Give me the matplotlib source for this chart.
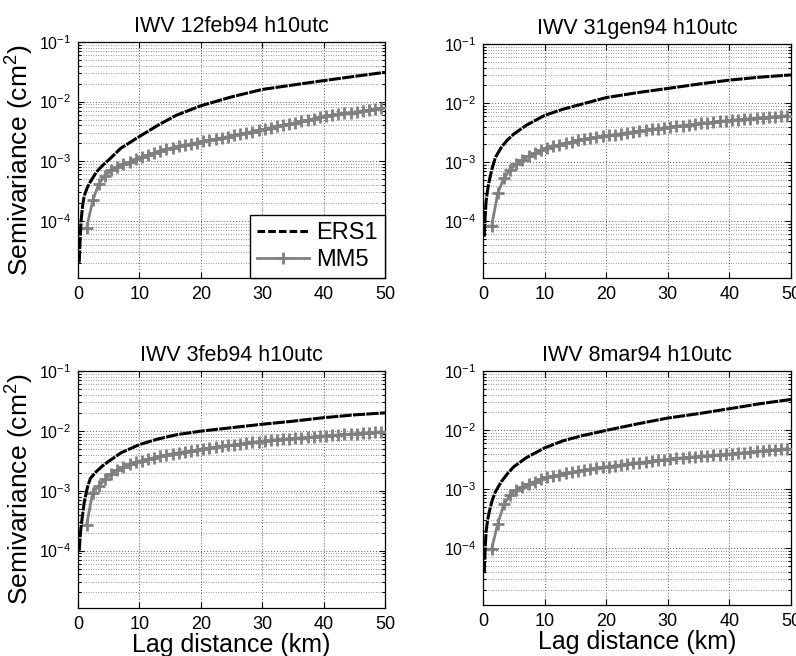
import matplotlib
matplotlib.use("Agg")
import matplotlib.pyplot as plt
from matplotlib.ticker import LogLocator, FixedLocator, NullFormatter

plt.rcParams['font.family'] = ['Liberation Sans', 'DejaVu Sans']
plt.rcParams['mathtext.fontset'] = 'custom'
plt.rcParams['mathtext.rm'] = 'Liberation Sans'
plt.rcParams['mathtext.it'] = 'Liberation Sans:italic'
plt.rcParams['mathtext.bf'] = 'Liberation Sans:bold'

titles = ["IWV 12feb94 h10utc", "IWV 31gen94 h10utc", "IWV 3feb94 h10utc", "IWV 8mar94 h10utc"]
series_names = ["ERS1", "MM5"]
x_ticks = [0, 10, 20, 30, 40, 50]
y_ticks = [1e-4, 1e-3, 1e-2, 1e-1]

ers_lag = [0.2, 0.35, 0.5, 0.75, 1, 1.5, 2, 3, 4, 5, 7, 10, 13, 16, 20, 25, 30, 35, 40, 45, 50]
ers_12feb = [2e-5, 5e-5, 1.0e-4, 1.8e-4, 2.6e-4, 3.6e-4, 4.5e-4, 6.6e-4, 8.5e-4, 1.05e-3, 1.66e-3,
             2.6e-3, 4.0e-3, 5.9e-3, 8.5e-3, 1.2e-2, 1.6e-2, 1.9e-2, 2.25e-2, 2.65e-2, 3.1e-2]
ers_31gen = [5.5e-5, 1.2e-4, 2.2e-4, 3.4e-4, 4.8e-4, 8e-4, 1.2e-3, 1.8e-3, 2.4e-3, 3.0e-3, 4.2e-3,
             6.2e-3, 7.9e-3, 9.6e-3, 1.24e-2, 1.5e-2, 1.77e-2, 2.1e-2, 2.45e-2, 2.75e-2, 3.0e-2]
ers_3feb = [1e-4, 1.7e-4, 2.5e-4, 4e-4, 6.3e-4, 1.1e-3, 1.6e-3, 2.1e-3, 2.6e-3, 3.1e-3, 4.3e-3,
            5.9e-3, 7.3e-3, 8.6e-3, 9.9e-3, 1.13e-2, 1.29e-2, 1.45e-2, 1.66e-2, 1.85e-2, 2.0e-2]
ers_8mar = [3.8e-5, 1.0e-4, 1.9e-4, 3e-4, 4.1e-4, 6.5e-4, 9e-4, 1.35e-3, 1.85e-3, 2.4e-3, 3.4e-3,
            5.0e-3, 6.6e-3, 8.0e-3, 9.9e-3, 1.27e-2, 1.6e-2, 1.9e-2, 2.3e-2, 2.8e-2, 3.3e-2]

mm5_lag = [1.4, 2.4, 3.4, 4.4, 5.4, 6.4, 7.4, 8.4, 9.4, 10.4, 11.4, 12.4, 13.4, 14.4, 15.4, 16.4,
           17.4, 18.4, 19.4, 20.4, 21.4, 22.4, 23.4, 24.4, 25.4, 26.4, 27.4, 28.4, 29.4, 30.4,
           31.4, 32.4, 33.4, 34.4, 35.4, 36.4, 37.4, 38.4, 39.4, 40.4, 41.4, 42.4, 43.4, 44.4,
           45.4, 46.4, 47.4, 48.4, 49.4]
mm5_12feb = [7.6e-5, 2.2e-4, 4.2e-4, 5.7e-4, 7.0e-4, 8.0e-4, 8.9e-4, 9.7e-4, 1.07e-3, 1.16e-3,
             1.26e-3, 1.36e-3, 1.46e-3, 1.58e-3, 1.69e-3, 1.78e-3, 1.87e-3, 1.96e-3, 2.05e-3,
             2.15e-3, 2.25e-3, 2.36e-3, 2.47e-3, 2.59e-3, 2.72e-3, 2.86e-3, 3.0e-3, 3.15e-3,
             3.3e-3, 3.47e-3, 3.65e-3, 3.84e-3, 4.03e-3, 4.22e-3, 4.42e-3, 4.65e-3, 4.9e-3,
             5.15e-3, 5.45e-3, 5.75e-3, 5.95e-3, 6.15e-3, 6.35e-3, 6.55e-3, 6.8e-3, 7.0e-3,
             7.25e-3, 7.5e-3, 7.8e-3]
mm5_31gen = [8.3e-5, 3.0e-4, 5.4e-4, 7.5e-4, 9.3e-4, 1.08e-3, 1.26e-3, 1.42e-3, 1.58e-3, 1.72e-3,
             1.85e-3, 1.97e-3, 2.09e-3, 2.2e-3, 2.34e-3, 2.44e-3, 2.54e-3, 2.64e-3, 2.74e-3,
             2.84e-3, 2.94e-3, 3.05e-3, 3.15e-3, 3.26e-3, 3.37e-3, 3.48e-3, 3.59e-3, 3.7e-3,
             3.82e-3, 3.94e-3, 4.06e-3, 4.18e-3, 4.3e-3, 4.42e-3, 4.54e-3, 4.66e-3, 4.78e-3,
             4.9e-3, 5.02e-3, 5.14e-3, 5.25e-3, 5.36e-3, 5.47e-3, 5.58e-3, 5.69e-3, 5.8e-3,
             5.91e-3, 6.02e-3, 6.13e-3]
mm5_3feb = [2.7e-4, 9.3e-4, 1.2e-3, 1.55e-3, 1.9e-3, 2.2e-3, 2.5e-3, 2.75e-3, 2.97e-3, 3.17e-3,
            3.37e-3, 3.57e-3, 3.77e-3, 3.97e-3, 4.15e-3, 4.31e-3, 4.47e-3, 4.63e-3, 4.8e-3,
            4.96e-3, 5.15e-3, 5.33e-3, 5.52e-3, 5.7e-3, 5.88e-3, 6.06e-3, 6.25e-3, 6.43e-3,
            6.62e-3, 6.84e-3, 6.98e-3, 7.12e-3, 7.26e-3, 7.4e-3, 7.54e-3, 7.68e-3, 7.82e-3,
            7.96e-3, 8.1e-3, 8.25e-3, 8.4e-3, 8.55e-3, 8.7e-3, 8.85e-3, 9.0e-3, 9.15e-3,
            9.3e-3, 9.45e-3, 9.7e-3]
mm5_8mar = [9.8e-5, 2.6e-4, 5.6e-4, 7.9e-4, 9.6e-4, 1.1e-3, 1.23e-3, 1.35e-3, 1.47e-3, 1.58e-3,
            1.67e-3, 1.76e-3, 1.85e-3, 1.94e-3, 2.02e-3, 2.1e-3, 2.18e-3, 2.26e-3, 2.34e-3,
            2.42e-3, 2.5e-3, 2.58e-3, 2.66e-3, 2.74e-3, 2.82e-3, 2.9e-3, 2.98e-3, 3.07e-3,
            3.16e-3, 3.26e-3, 3.33e-3, 3.4e-3, 3.47e-3, 3.54e-3, 3.61e-3, 3.68e-3, 3.75e-3,
            3.83e-3, 3.91e-3, 3.99e-3, 4.08e-3, 4.17e-3, 4.26e-3, 4.35e-3, 4.44e-3, 4.54e-3,
            4.64e-3, 4.74e-3, 4.85e-3]

ers_all = [ers_12feb, ers_31gen, ers_3feb, ers_8mar]
mm5_all = [mm5_12feb, mm5_31gen, mm5_3feb, mm5_8mar]

W, H = 796, 656
fig = plt.figure(figsize=(W / 100, H / 100), dpi=100)
# axes boxes in pixels: left, top, right, bottom
boxes = [(78, 42, 385, 278), (483, 44, 791, 278), (78, 371, 385, 608), (483, 371, 791, 605)]

for i, (l, t, r, b) in enumerate(boxes):
    ax = fig.add_axes([l / W, 1 - b / H, (r - l) / W, (b - t) / H])
    ax.set_yscale('log')
    ax.set_xlim(0, 50)
    ax.set_ylim(1.1e-5, 1e-1)
    ax.yaxis.set_major_locator(FixedLocator(y_ticks))
    ax.yaxis.set_minor_locator(LogLocator(base=10, subs=range(2, 10), numticks=20))
    ax.yaxis.set_minor_formatter(NullFormatter())
    ax.set_xticks(x_ticks)
    ax.grid(True, which='major', linestyle=(0, (1, 2)), color='0.35', linewidth=0.7)
    ax.grid(True, which='minor', axis='y', linestyle=(0, (1, 2)), color='0.45', linewidth=0.6)
    ax.tick_params(direction='in', which='both', top=True, right=True,
                   length=4, width=0.8)
    ax.tick_params(which='minor', length=2)
    ax.tick_params(axis='x', pad=6, labelsize=13)
    ax.tick_params(axis='y', pad=5, labelsize=11.5)
    for s in ax.spines.values():
        s.set_linewidth(0.9)
        s.set_color('black')
    ax.plot(ers_lag, ers_all[i], color='black', linestyle=(0, (4, 0.4)), linewidth=2.2,
            label=series_names[0], zorder=4)
    ax.plot(mm5_lag, mm5_all[i], color='#808080', linestyle='-', linewidth=2.0,
            marker='+', markersize=8, markeredgewidth=2.0, label=series_names[1], zorder=3)
    ax.set_title(titles[i], fontsize=15.5, pad=7)
    if i % 2 == 0:
        ax.set_ylabel('Semivariance (cm$^2$)', fontsize=19, labelpad=2)
    if i >= 2:
        ax.set_xlabel('Lag distance (km)', fontsize=18, labelpad=0)
    if i == 0:
        leg = ax.legend(loc='lower right', borderaxespad=0, fontsize=17, fancybox=False,
                        framealpha=1, edgecolor='black', handlelength=2.2,
                        handletextpad=0.3, borderpad=0.3, labelspacing=0.2)
        leg.get_lines()[0].set_linestyle((0, (2.5, 1)))
        leg.get_frame().set_linewidth(1.0)

fig.savefig('out.png', dpi=100)
